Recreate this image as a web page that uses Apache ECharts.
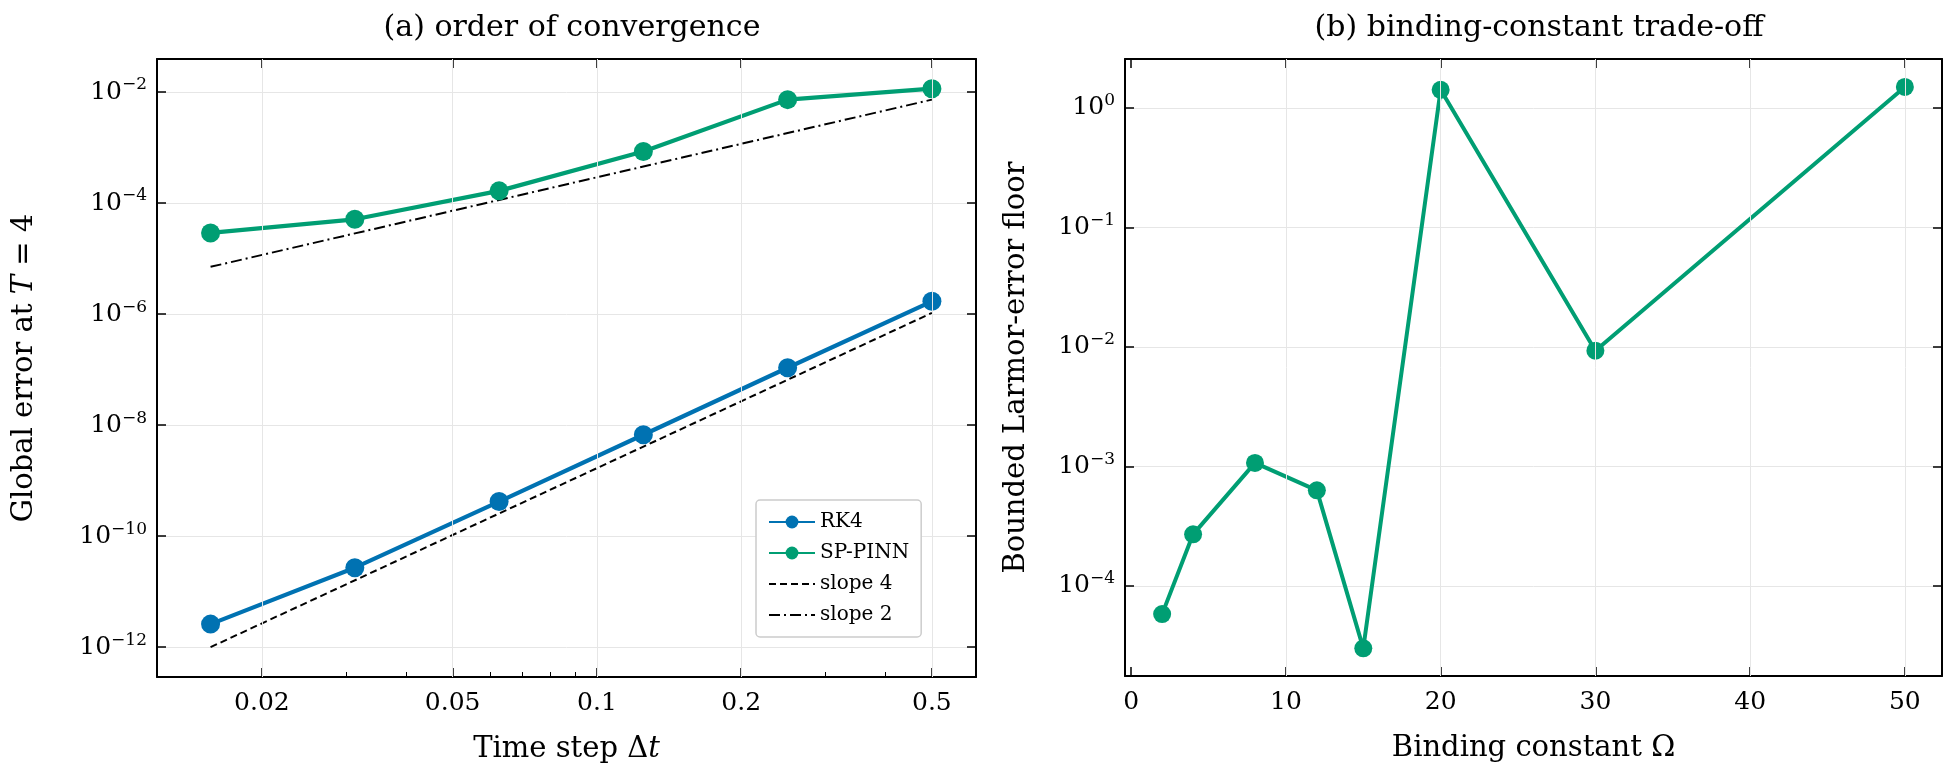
<!DOCTYPE html>
<html>
<head>
<meta charset="utf-8">
<script src="https://cdn.jsdelivr.net/npm/echarts@6/dist/echarts.min.js"></script>
<style>
html,body{margin:0;padding:0;background:#fff}
#chart{width:1959px;height:775px}
</style>
</head>
<body>
<div id="chart"></div>
<script>
// panel (a)
const dt = [0.015625, 0.03125, 0.0625, 0.125, 0.25, 0.5]
const rk4Err = [2.6e-12, 2.7e-11, 4.2e-10, 6.7e-9, 1.08e-7, 1.7e-6]
const pinnErr = [2.9e-5, 5.1e-5, 1.66e-4, 8.5e-4, 7.3e-3, 1.15e-2]
const slope4 = [[0.015625, 1.0e-12], [0.5, 1.05e-6]]
const slope2 = [[0.015625, 7.1e-6], [0.5, 7.3e-3]]
const dtTicks = [0.02, 0.05, 0.1, 0.2, 0.5]
const dtMinorTicks = [0.03, 0.04, 0.06, 0.07, 0.08, 0.09, 0.3, 0.4]
// panel (b)
const omega = [2, 4, 8, 12, 15, 20, 30, 50]
const floorErr = [5.8e-5, 2.7e-4, 1.07e-3, 6.3e-4, 3.0e-5, 1.42, 9.3e-3, 1.5]
const omegaTicks = [0, 10, 20, 30, 40, 50]

const blue = '#0072b2', green = '#009e73'
const font = 'DejaVu Serif'
let chart = echarts.init(document.getElementById('chart'))

const sup = {sup: {fontSize: 17, verticalAlign: 'top', padding: [0, 0, 14, 0], fontFamily: font, color: '#000'}}
function powLabel(v) {
    let e = Math.log10(v)
    if (Math.abs(e - Math.round(e)) > 1e-6) return ''
    return '10{sup|' + (Math.round(e) < 0 ? '\u2212' + (-Math.round(e)) : Math.round(e)) + '}'
}
function logAxis(grid, min, max, base, name, nameGap) {
    return [{
        type: 'log', logBase: base, gridIndex: grid, min: min, max: max,
        name: name, nameLocation: 'middle', nameGap: nameGap,
        nameTextStyle: {fontFamily: font, fontSize: 29, color: '#000', rich: {i: {fontFamily: font, fontStyle: 'italic', fontSize: 29}}},
        axisLine: {show: true, onZero: false, lineStyle: {color: '#000', width: 2}},
        axisTick: {inside: true, length: 9, lineStyle: {color: '#000', width: 1.5}},
        axisLabel: {fontFamily: font, fontSize: 25, color: '#000', margin: 10, formatter: powLabel, rich: sup},
        splitLine: {show: true, lineStyle: {color: '#e6e6e6', width: 1}}
    }, {
        type: 'log', logBase: base, gridIndex: grid, min: min, max: max, position: 'right',
        axisLine: {show: true, onZero: false, lineStyle: {color: '#000', width: 2}},
        axisTick: {inside: true, length: 9, lineStyle: {color: '#000', width: 1.5}},
        axisLabel: {show: false}, splitLine: {show: false}
    }]
}

let option = {
    animation: false,
    title: [
        {text: '(a) order of convergence', left: 567, top: 8, textAlign: 'center', textStyle: {fontFamily: font, fontSize: 30, fontWeight: 'normal', color: '#000'}},
        {text: '(b) binding-constant trade-off', left: 1534, top: 8, textAlign: 'center', textStyle: {fontFamily: font, fontSize: 30, fontWeight: 'normal', color: '#000'}}
    ],
    grid: [
        {left: 157, right: 983, top: 59, bottom: 98},
        {left: 1125, right: 17, top: 59, bottom: 99}
    ],
    legend: {
        left: 756, top: 500, orient: 'vertical', itemGap: 11, itemWidth: 46, itemHeight: 16,
        backgroundColor: '#fff', borderColor: '#ccc', borderWidth: 1.5, borderRadius: 4, padding: [12, 12],
        textStyle: {fontFamily: font, fontSize: 20, color: '#000'},
        data: ['RK4', 'SP-PINN', {name: 'slope 4', itemStyle: {opacity: 0}}, {name: 'slope 2', itemStyle: {opacity: 0}}]
    },
    xAxis: [
        {
            type: 'log', gridIndex: 0, min: 0.01208, max: 0.618,
            name: 'Time step \u0394{i|t}', nameLocation: 'middle', nameGap: 58,
            nameTextStyle: {fontFamily: font, fontSize: 29, color: '#000', rich: {i: {fontFamily: font, fontStyle: 'italic', fontSize: 29}}},
            axisLine: {lineStyle: {color: '#000', width: 2}},
            axisTick: {inside: true, length: 9, customValues: dtTicks, lineStyle: {color: '#000', width: 1.5}},
            axisLabel: {fontFamily: font, fontSize: 25, color: '#000', margin: 14, customValues: dtTicks, formatter: v => String(+v.toPrecision(3))},
            splitLine: {show: false}
        },
        {
            type: 'log', gridIndex: 0, min: 0.01208, max: 0.618, position: 'top',
            axisLine: {lineStyle: {color: '#000', width: 2}},
            axisTick: {inside: true, length: 9, customValues: dtTicks, lineStyle: {color: '#000', width: 1.5}},
            axisLabel: {show: false}, splitLine: {show: false}
        },
        {
            type: 'log', gridIndex: 0, min: 0.01208, max: 0.618, position: 'bottom',
            axisLine: {show: false},
            axisTick: {inside: true, length: 5, customValues: dtMinorTicks, lineStyle: {color: '#000', width: 1}},
            axisLabel: {show: false}, splitLine: {show: false}
        },
        {
            type: 'value', gridIndex: 1, min: -0.4, max: 52.4,
            name: 'Binding constant \u03a9', nameLocation: 'middle', nameGap: 58,
            nameTextStyle: {fontFamily: font, fontSize: 29, color: '#000'},
            axisLine: {onZero: false, lineStyle: {color: '#000', width: 2}},
            axisTick: {inside: true, length: 9, customValues: omegaTicks, lineStyle: {color: '#000', width: 1.5}},
            axisLabel: {fontFamily: font, fontSize: 25, color: '#000', margin: 14, customValues: omegaTicks},
            splitLine: {show: false}
        },
        {
            type: 'value', gridIndex: 1, min: -0.4, max: 52.4, position: 'top',
            axisLine: {onZero: false, lineStyle: {color: '#000', width: 2}},
            axisTick: {inside: true, length: 9, customValues: omegaTicks, lineStyle: {color: '#000', width: 1.5}},
            axisLabel: {show: false}, splitLine: {show: false}
        }
    ],
    yAxis: [
        ...logAxis(0, 2.9e-13, 0.0394, 100, 'Global error at {i|T} = 4', 118),
        ...logAxis(1, 1.76e-5, 2.57, 10, 'Bounded Larmor-error floor', 94)
    ],
    series: [
        {
            // vertical grid lines at the labelled ticks
            type: 'line', xAxisIndex: 0, yAxisIndex: 0, data: [], silent: true,
            markLine: {symbol: 'none', silent: true, label: {show: false}, lineStyle: {color: '#e6e6e6', width: 1, type: 'solid'},
                data: dtTicks.map(v => ({xAxis: v}))}
        },
        {
            type: 'line', xAxisIndex: 3, yAxisIndex: 2, data: [], silent: true,
            markLine: {symbol: 'none', silent: true, label: {show: false}, lineStyle: {color: '#e6e6e6', width: 1, type: 'solid'},
                data: omegaTicks.slice(1).map(v => ({xAxis: v}))}
        },
        {
            name: 'slope 4', type: 'line', xAxisIndex: 0, yAxisIndex: 0, data: slope4,
            symbol: 'none', lineStyle: {color: '#000', width: 2, type: [7, 4]}, itemStyle: {color: '#000'}
        },
        {
            name: 'slope 2', type: 'line', xAxisIndex: 0, yAxisIndex: 0, data: slope2,
            symbol: 'none', lineStyle: {color: '#000', width: 2, type: [11, 4, 2, 4]}, itemStyle: {color: '#000'}
        },
        {
            name: 'RK4', type: 'line', xAxisIndex: 0, yAxisIndex: 0, data: dt.map((x, i) => [x, rk4Err[i]]),
            symbol: 'circle', symbolSize: 19, lineStyle: {color: blue, width: 4.2}, itemStyle: {color: blue}
        },
        {
            name: 'SP-PINN', type: 'line', xAxisIndex: 0, yAxisIndex: 0, data: dt.map((x, i) => [x, pinnErr[i]]),
            symbol: 'circle', symbolSize: 19, lineStyle: {color: green, width: 4.2}, itemStyle: {color: green}
        },
        {
            name: 'floor', type: 'line', xAxisIndex: 3, yAxisIndex: 2, data: omega.map((x, i) => [x, floorErr[i]]),
            symbol: 'circle', symbolSize: 18, lineStyle: {color: green, width: 4}, itemStyle: {color: green}
        }
    ]
}
chart.setOption(option)
</script>
</body>
</html>
